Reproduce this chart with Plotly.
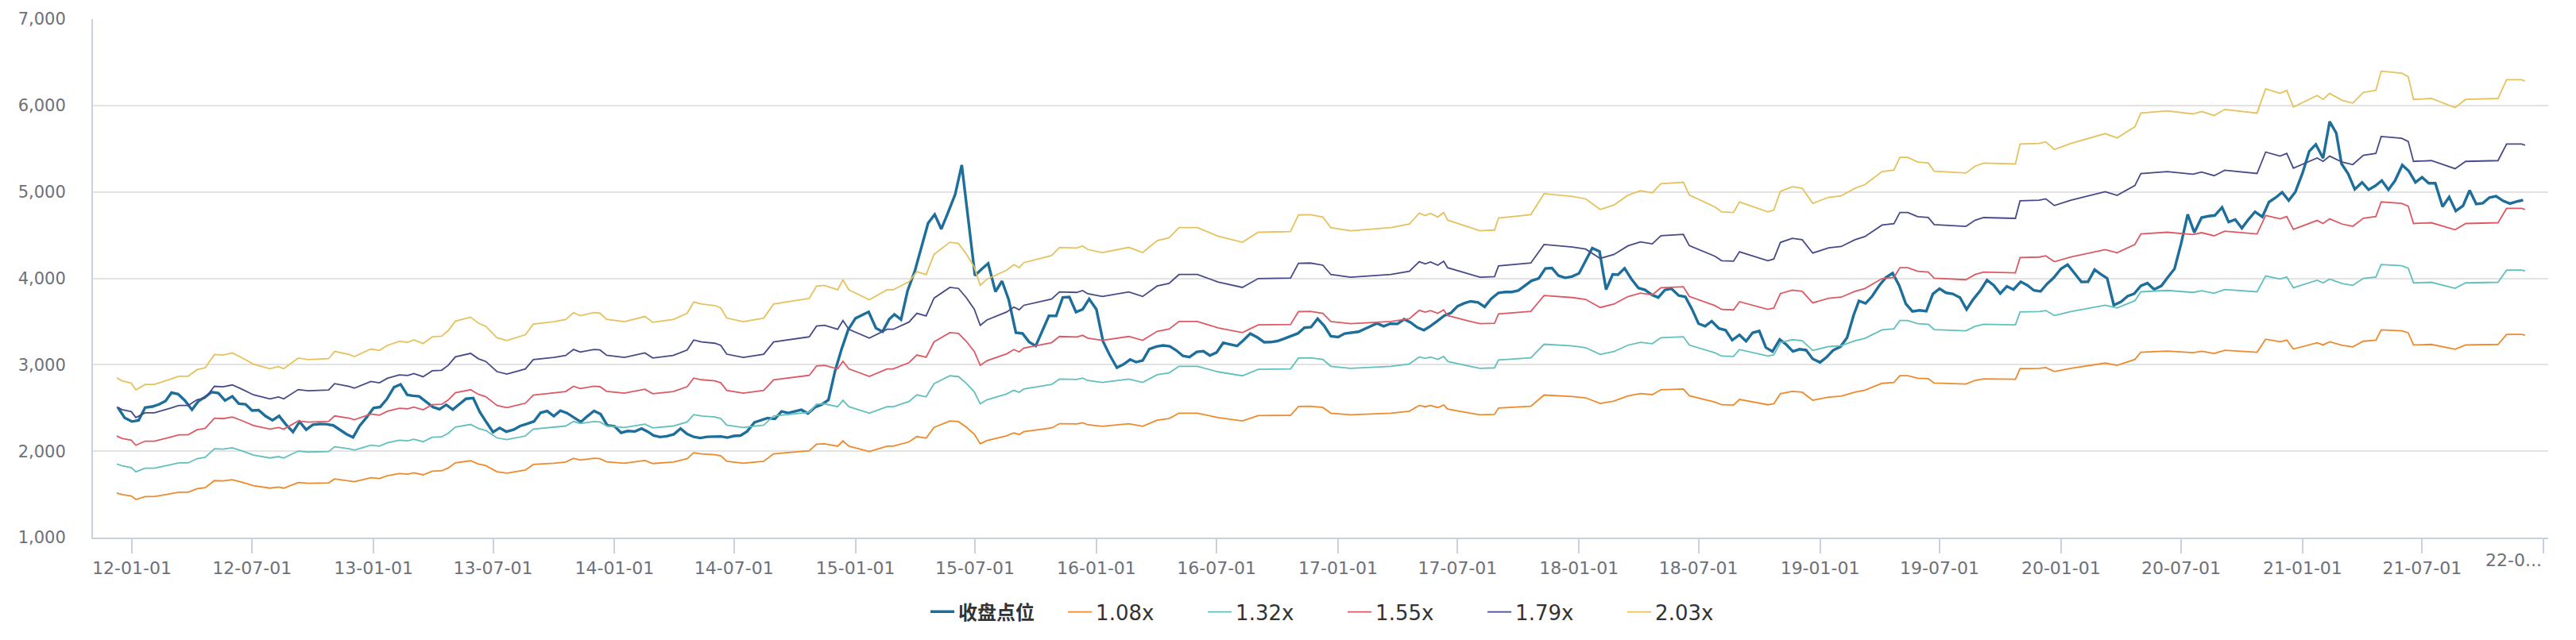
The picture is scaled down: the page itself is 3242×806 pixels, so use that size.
import plotly.graph_objects as go

# ---------------- data ----------------
# close level, sampled on the 1st, 11th and 21st of each month (2011-12-11 .. 2021-12-01)
close_months = [(2011, 12)] + [(y, m) for y in range(2012, 2022) for m in range(1, 13)]
close_dates = [f"{y}-{m:02d}-{d:02d}" for (y, m) in close_months for d in (1, 11, 21)][1:-2]

close_2011 = [2505, 2386]
close_2012 = [2343, 2355, 2505, 2516, 2541, 2580, 2677, 2661, 2588, 2480, 2581, 2627,
              2684, 2672, 2586, 2635, 2549, 2543, 2470, 2474, 2408, 2358, 2407, 2311,
              2223, 2340, 2248, 2306, 2314, 2313, 2298, 2252, 2197, 2160, 2294, 2386]
close_2013 = [2499, 2511, 2601, 2740, 2773, 2653, 2641, 2635, 2578, 2510, 2485, 2537,
              2481, 2540, 2606, 2614, 2453, 2334, 2221, 2269, 2226, 2248, 2291, 2316,
              2344, 2444, 2464, 2406, 2469, 2441, 2390, 2337, 2405, 2466, 2428, 2299]
close_2014 = [2288, 2213, 2233, 2228, 2262, 2223, 2181, 2164, 2173, 2196, 2262, 2198,
              2165, 2152, 2166, 2172, 2170, 2157, 2176, 2181, 2230, 2333, 2362, 2383,
              2373, 2460, 2442, 2457, 2478, 2437, 2510, 2539, 2593, 2926, 3181, 3406]
close_2015 = [3537, 3575, 3612, 3424, 3383, 3526, 3582, 3523, 3858, 4087, 4349, 4638,
              4739, 4570, 4757, 4971, 5311, 4680, 4032, 4106, 4172, 3846, 3968, 3755,
              3372, 3362, 3264, 3218, 3389, 3566, 3565, 3779, 3784, 3609, 3640, 3760]
close_2016 = [3639, 3270, 3113, 2966, 3005, 3060, 3030, 3049, 3180, 3211, 3223, 3213,
              3166, 3102, 3089, 3149, 3157, 3107, 3142, 3254, 3237, 3217, 3285, 3360,
              3315, 3261, 3262, 3274, 3300, 3333, 3362, 3428, 3435, 3533, 3450, 3330]
close_2017 = [3320, 3361, 3368, 3382, 3416, 3449, 3480, 3445, 3474, 3473, 3526, 3488,
              3432, 3400, 3447, 3510, 3569, 3600, 3677, 3711, 3734, 3722, 3670, 3763,
              3832, 3842, 3842, 3858, 3914, 3972, 4000, 4114, 4119, 4030, 4006, 4020]
close_2018 = [4058, 4209, 4350, 4310, 3870, 4046, 4042, 4116, 3996, 3888, 3866, 3810,
              3778, 3865, 3880, 3800, 3786, 3645, 3476, 3445, 3504, 3420, 3400, 3285,
              3346, 3272, 3370, 3390, 3199, 3153, 3292, 3233, 3154, 3179, 3169, 3068]
close_2019 = [3027, 3088, 3168, 3209, 3313, 3575, 3738, 3710, 3793, 3920, 4010, 4060,
              3915, 3706, 3618, 3630, 3620, 3820, 3880, 3832, 3820, 3778, 3640, 3756,
              3860, 3980, 3920, 3825, 3908, 3870, 3960, 3920, 3860, 3848, 3936, 4006]
close_2020 = [4110, 4158, 4060, 3958, 3960, 4100, 4050, 4000, 3690, 3728, 3793, 3822,
              3914, 3944, 3872, 3912, 4014, 4110, 4403, 4740, 4530, 4702, 4719, 4728,
              4821, 4651, 4680, 4580, 4682, 4770, 4710, 4882, 4933, 4995, 4900, 5000]
close_2021 = [5220, 5470, 5550, 5390, 5814, 5680, 5325, 5210, 5030, 5110, 5025, 5070,
              5130, 5025, 5130, 5310, 5240, 5110, 5170, 5100, 5100, 4830, 4940, 4780,
              4840, 5018, 4860, 4870, 4935, 4950, 4895, 4865, 4888, 4905]
close_values = (close_2011 + close_2012 + close_2013 + close_2014 + close_2015 + close_2016
                + close_2017 + close_2018 + close_2019 + close_2020 + close_2021)
assert len(close_values) == len(close_dates), (len(close_values), len(close_dates))

band_dates = [
    "2011-12-09", "2011-12-17", "2011-12-31", "2012-01-07", "2012-01-21", "2012-02-04", "2012-02-28",
    "2012-03-12", "2012-03-26", "2012-04-09", "2012-04-21", "2012-05-05", "2012-05-18", "2012-06-01",
    "2012-06-15", "2012-07-03", "2012-07-28", "2012-08-10", "2012-08-18", "2012-09-09", "2012-09-24",
    "2012-10-25", "2012-11-03", "2012-11-25", "2012-12-03", "2012-12-28", "2013-01-10", "2013-01-22",
    "2013-02-09", "2013-02-22", "2013-03-03", "2013-03-17", "2013-03-31", "2013-04-14", "2013-04-24",
    "2013-05-05", "2013-05-28", "2013-06-09", "2013-06-20", "2013-07-07", "2013-07-22", "2013-08-19",
    "2013-08-31", "2013-10-01", "2013-10-19", "2013-10-31", "2013-11-10", "2013-12-01", "2013-12-10",
    "2013-12-20", "2014-01-16", "2014-02-16", "2014-02-28", "2014-03-31", "2014-04-21", "2014-05-01",
    "2014-05-13", "2014-06-02", "2014-06-11", "2014-06-20", "2014-07-15", "2014-08-15", "2014-08-30",
    "2014-10-23", "2014-11-03", "2014-11-15", "2014-12-05", "2014-12-13", "2014-12-22", "2015-01-22",
    "2015-02-18", "2015-02-27", "2015-03-23", "2015-04-04", "2015-04-18", "2015-04-30", "2015-05-24",
    "2015-06-06", "2015-06-18", "2015-06-30", "2015-07-09", "2015-07-19", "2015-08-18", "2015-08-29",
    "2015-09-06", "2015-09-13", "2015-10-25", "2015-11-06", "2015-12-02", "2015-12-11", "2015-12-19",
    "2016-01-10", "2016-02-19", "2016-03-11", "2016-04-02", "2016-04-20", "2016-05-05", "2016-06-02",
    "2016-07-03", "2016-08-09", "2016-09-02", "2016-10-21", "2016-11-02", "2016-11-20", "2016-12-09",
    "2016-12-21", "2017-01-20", "2017-03-22", "2017-04-19", "2017-05-04", "2017-05-13", "2017-05-21",
    "2017-06-01", "2017-06-10", "2017-06-16", "2017-07-17", "2017-08-04", "2017-08-26", "2017-09-01",
    "2017-10-20", "2017-11-09", "2017-12-22", "2018-01-11", "2018-02-02", "2018-02-23", "2018-03-16",
    "2018-04-04", "2018-04-22", "2018-05-05", "2018-06-08", "2018-06-17", "2018-07-26", "2018-08-05",
    "2018-08-23", "2018-09-01", "2018-10-14", "2018-10-23", "2018-11-02", "2018-11-20", "2018-12-05",
    "2018-12-21", "2019-01-14", "2019-02-02", "2019-02-23", "2019-03-10", "2019-04-05", "2019-04-23",
    "2019-05-02", "2019-05-14", "2019-05-29", "2019-06-14", "2019-06-23", "2019-07-29", "2019-08-10",
    "2019-08-24", "2019-09-06", "2019-10-24", "2019-10-31", "2019-11-29", "2019-12-09", "2019-12-22",
    "2020-01-16", "2020-03-08", "2020-03-26", "2020-04-22", "2020-05-01", "2020-06-10", "2020-07-19",
    "2020-08-01", "2020-08-20", "2020-09-05", "2020-10-24", "2020-11-06", "2020-11-28", "2020-12-08",
    "2020-12-18", "2021-01-23", "2021-02-01", "2021-02-11", "2021-03-02", "2021-03-18", "2021-04-03",
    "2021-04-22", "2021-04-30", "2021-05-31", "2021-06-10", "2021-06-18", "2021-07-15", "2021-08-20",
    "2021-09-05", "2021-10-24", "2021-11-06", "2021-11-29", "2021-12-04",
]

band_108 = [
    1516, 1497, 1482, 1441, 1475, 1475, 1507, 1525, 1525, 1566, 1577, 1659, 1656, 1669, 1641, 1600,
    1572, 1585, 1572, 1637, 1628, 1633, 1678, 1659, 1647, 1693, 1684, 1715, 1740, 1734, 1749, 1726,
    1768, 1772, 1805, 1865, 1889, 1851, 1833, 1762, 1745, 1781, 1846, 1861, 1874, 1917, 1898, 1917,
    1913, 1876, 1861, 1893, 1857, 1874, 1913, 1982, 1969, 1960, 1945, 1883, 1861, 1883, 1969, 2005,
    2080, 2085, 2057, 2118, 2057, 1996, 2057, 2057, 2107, 2169, 2150, 2275, 2350, 2342, 2277, 2197,
    2085, 2122, 2178, 2212, 2193, 2225, 2268, 2318, 2315, 2328, 2305, 2287, 2318, 2287, 2359, 2378,
    2440, 2440, 2388, 2350, 2412, 2415, 2518, 2520, 2505, 2440, 2421, 2440, 2462, 2529, 2514, 2528,
    2505, 2533, 2487, 2443, 2421, 2425, 2499, 2520, 2649, 2632, 2617, 2552, 2580, 2639, 2667, 2654,
    2711, 2720, 2641, 2567, 2537, 2533, 2598, 2537, 2548, 2664, 2692, 2682, 2589, 2626, 2636, 2682,
    2705, 2785, 2795, 2873, 2873, 2844, 2838, 2788, 2781, 2776, 2819, 2837, 2832, 2955, 2958, 2968,
    2921, 2958, 3019, 2993, 3061, 3145, 3158, 3140, 3155, 3130, 3168, 3145, 3295, 3266, 3285, 3182,
    3254, 3229, 3266, 3224, 3207, 3272, 3285, 3403, 3392, 3369, 3229, 3235, 3179, 3229, 3235, 3351,
    3351, 3341,
]
band_132 = [
    1852, 1830, 1811, 1761, 1802, 1802, 1841, 1864, 1864, 1914, 1928, 2028, 2023, 2040, 2005, 1955,
    1921, 1937, 1921, 2001, 1990, 1996, 2051, 2028, 2012, 2069, 2058, 2096, 2126, 2120, 2138, 2110,
    2161, 2165, 2206, 2279, 2309, 2263, 2240, 2153, 2133, 2176, 2256, 2274, 2291, 2343, 2320, 2343,
    2338, 2293, 2274, 2313, 2270, 2291, 2338, 2423, 2407, 2396, 2377, 2302, 2274, 2302, 2407, 2450,
    2542, 2548, 2514, 2589, 2514, 2439, 2514, 2514, 2575, 2651, 2628, 2781, 2872, 2863, 2784, 2685,
    2548, 2594, 2662, 2704, 2681, 2719, 2772, 2834, 2829, 2845, 2817, 2795, 2834, 2795, 2884, 2906,
    2982, 2982, 2918, 2872, 2947, 2952, 3077, 3080, 3062, 2982, 2959, 2982, 3009, 3091, 3073, 3089,
    3062, 3096, 3039, 2986, 2959, 2964, 3055, 3080, 3237, 3217, 3198, 3119, 3153, 3226, 3260, 3244,
    3313, 3324, 3228, 3137, 3100, 3096, 3176, 3100, 3114, 3256, 3290, 3278, 3165, 3210, 3221, 3278,
    3306, 3404, 3416, 3511, 3511, 3475, 3469, 3407, 3399, 3393, 3445, 3468, 3461, 3611, 3616, 3627,
    3570, 3616, 3689, 3657, 3741, 3844, 3860, 3837, 3856, 3826, 3871, 3844, 4027, 3992, 4015, 3890,
    3977, 3947, 3992, 3940, 3919, 3999, 4015, 4159, 4145, 4118, 3947, 3954, 3885, 3947, 3954, 4095,
    4095, 4084,
]
band_155 = [
    2175, 2148, 2127, 2068, 2116, 2116, 2162, 2189, 2189, 2248, 2264, 2381, 2376, 2395, 2355, 2296,
    2255, 2274, 2255, 2349, 2336, 2344, 2408, 2381, 2363, 2429, 2416, 2462, 2497, 2489, 2510, 2478,
    2537, 2542, 2591, 2676, 2711, 2657, 2630, 2529, 2504, 2555, 2649, 2671, 2690, 2751, 2724, 2751,
    2746, 2692, 2671, 2716, 2665, 2690, 2746, 2845, 2826, 2813, 2791, 2703, 2671, 2703, 2826, 2877,
    2985, 2992, 2952, 3040, 2952, 2864, 2952, 2952, 3024, 3113, 3086, 3265, 3372, 3362, 3269, 3153,
    2992, 3046, 3126, 3175, 3148, 3193, 3255, 3327, 3322, 3340, 3308, 3282, 3327, 3282, 3386, 3413,
    3501, 3501, 3427, 3372, 3461, 3466, 3614, 3617, 3595, 3501, 3475, 3501, 3533, 3630, 3608, 3627,
    3595, 3635, 3569, 3507, 3475, 3480, 3587, 3617, 3801, 3777, 3756, 3663, 3702, 3788, 3828, 3809,
    3890, 3903, 3791, 3684, 3640, 3635, 3729, 3640, 3656, 3823, 3863, 3850, 3716, 3769, 3782, 3850,
    3882, 3997, 4011, 4123, 4123, 4081, 4073, 4001, 3992, 3984, 4045, 4072, 4064, 4240, 4246, 4260,
    4192, 4246, 4332, 4295, 4393, 4514, 4533, 4506, 4528, 4492, 4546, 4514, 4728, 4688, 4715, 4567,
    4670, 4634, 4688, 4627, 4602, 4696, 4715, 4884, 4867, 4835, 4634, 4643, 4562, 4634, 4643, 4809,
    4809, 4795,
]
band_179 = [
    2512, 2481, 2457, 2389, 2444, 2444, 2497, 2528, 2528, 2596, 2615, 2750, 2744, 2766, 2719, 2652,
    2605, 2627, 2605, 2713, 2698, 2707, 2781, 2750, 2729, 2806, 2791, 2843, 2883, 2875, 2899, 2861,
    2930, 2936, 2992, 3091, 3131, 3069, 3038, 2920, 2892, 2951, 3060, 3085, 3107, 3177, 3146, 3177,
    3171, 3109, 3085, 3137, 3078, 3107, 3171, 3286, 3264, 3249, 3224, 3122, 3085, 3122, 3264, 3323,
    3447, 3456, 3410, 3511, 3410, 3308, 3410, 3410, 3493, 3595, 3564, 3771, 3895, 3883, 3775, 3642,
    3456, 3518, 3610, 3667, 3636, 3688, 3759, 3843, 3837, 3858, 3821, 3790, 3843, 3790, 3911, 3942,
    4044, 4044, 3958, 3895, 3997, 4003, 4174, 4177, 4152, 4044, 4013, 4044, 4081, 4192, 4167, 4189,
    4152, 4198, 4122, 4050, 4013, 4019, 4143, 4177, 4391, 4362, 4338, 4230, 4276, 4375, 4421, 4399,
    4493, 4508, 4378, 4255, 4204, 4198, 4307, 4204, 4223, 4415, 4462, 4446, 4292, 4353, 4368, 4446,
    4483, 4616, 4632, 4762, 4762, 4713, 4704, 4621, 4610, 4601, 4672, 4703, 4694, 4898, 4904, 4920,
    4842, 4904, 5003, 4960, 5074, 5213, 5235, 5204, 5229, 5188, 5250, 5213, 5461, 5414, 5445, 5275,
    5393, 5353, 5414, 5344, 5316, 5424, 5445, 5641, 5621, 5584, 5353, 5362, 5269, 5353, 5362, 5554,
    5554, 5539,
]
band_203 = [
    2849, 2814, 2786, 2709, 2772, 2772, 2832, 2867, 2867, 2944, 2965, 3119, 3112, 3137, 3084, 3007,
    2954, 2979, 2954, 3077, 3060, 3070, 3154, 3119, 3095, 3182, 3165, 3224, 3270, 3260, 3288, 3245,
    3323, 3330, 3393, 3505, 3551, 3480, 3445, 3312, 3280, 3347, 3470, 3498, 3523, 3603, 3568, 3603,
    3596, 3526, 3498, 3558, 3491, 3523, 3596, 3726, 3702, 3685, 3656, 3540, 3498, 3540, 3702, 3768,
    3909, 3919, 3867, 3982, 3867, 3751, 3867, 3867, 3961, 4077, 4042, 4277, 4417, 4403, 4281, 4130,
    3919, 3989, 4094, 4158, 4123, 4182, 4263, 4358, 4351, 4375, 4333, 4298, 4358, 4298, 4435, 4470,
    4586, 4586, 4488, 4417, 4533, 4540, 4733, 4737, 4709, 4586, 4551, 4586, 4628, 4754, 4726, 4751,
    4709, 4761, 4674, 4593, 4551, 4558, 4698, 4737, 4979, 4947, 4919, 4797, 4849, 4961, 5014, 4989,
    5095, 5112, 4965, 4825, 4768, 4761, 4884, 4768, 4789, 5007, 5060, 5042, 4867, 4937, 4954, 5042,
    5084, 5235, 5253, 5400, 5400, 5345, 5335, 5240, 5228, 5218, 5298, 5333, 5323, 5554, 5561, 5579,
    5491, 5561, 5674, 5625, 5754, 5912, 5937, 5902, 5930, 5884, 5954, 5912, 6193, 6140, 6175, 5982,
    6116, 6070, 6140, 6060, 6028, 6151, 6175, 6397, 6375, 6333, 6070, 6081, 5975, 6070, 6081, 6298,
    6298, 6281,
]
for b in (band_108, band_132, band_155, band_179, band_203):
    assert len(b) == len(band_dates), (len(b), len(band_dates))

series_names = ["<b>收盘点位</b>", "1.08x", "1.32x", "1.55x", "1.79x", "2.03x"]
series_colors = ["#1d6e9a", "#ef8a2c", "#62c0bc", "#dc5a64", "#454b87", "#e5c25e"]

tick_dates = ["2012-01-01", "2012-07-01", "2013-01-01", "2013-07-01", "2014-01-01", "2014-07-01",
              "2015-01-01", "2015-07-01", "2016-01-01", "2016-07-01", "2017-01-01", "2017-07-01",
              "2018-01-01", "2018-07-01", "2019-01-01", "2019-07-01", "2020-01-01", "2020-07-01",
              "2021-01-01", "2021-07-01", "2022-01-01"]
tick_labels = ["12-01-01", "12-07-01", "13-01-01", "13-07-01", "14-01-01", "14-07-01",
               "15-01-01", "15-07-01", "16-01-01", "16-07-01", "17-01-01", "17-07-01",
               "18-01-01", "18-07-01", "19-01-01", "19-07-01", "20-01-01", "20-07-01",
               "21-01-01", "21-07-01", ""]
last_label = "22-0..."
y_ticks = [1000, 2000, 3000, 4000, 5000, 6000, 7000]

# ---------------- figure ----------------
AXIS = "#c8d1e2"
LABEL = "#6e7079"
FONT = "DejaVu Sans, Noto Sans CJK SC, sans-serif"

fig = go.Figure()
fig.add_trace(go.Scatter(x=close_dates, y=close_values, mode="lines", name=series_names[0],
                         line=dict(color=series_colors[0], width=3.4), legend="legend"))
for name, color, vals in zip(series_names[1:], series_colors[1:],
                             [band_108, band_132, band_155, band_179, band_203]):
    fig.add_trace(go.Scatter(x=band_dates, y=vals, mode="lines", name=name,
                             line=dict(color=color, width=1.8), legend="legend2"))

legend_common = dict(orientation="h", y=-0.1435, yanchor="middle", xanchor="left",
                     itemwidth=30, bgcolor="rgba(0,0,0,0)", borderwidth=0)

fig.update_layout(
    width=3242, height=806, autosize=False,
    margin=dict(l=117, r=35, t=22, b=129),
    paper_bgcolor="white", plot_bgcolor="white",
    font=dict(family=FONT, color=LABEL),
    showlegend=True,
    legend=dict(x=0.3395, font=dict(family=FONT, size=24, color="#333333"), **legend_common),
    legend2=dict(x=0.3955, entrywidth=131, entrywidthmode="pixels",
                 font=dict(family=FONT, size=26, color="#333333"), **legend_common),
    annotations=[dict(x=tick_dates[-1], xref="x", y=-0.0443, yref="paper", text=last_label,
                      showarrow=False, xanchor="right", yanchor="middle",
                      font=dict(family=FONT, size=22, color=LABEL))],
)
fig.update_xaxes(type="date", range=["2011-11-03", "2022-01-08"],
                 tickmode="array", tickvals=tick_dates, ticktext=tick_labels,
                 ticks="outside", ticklen=18, tickwidth=2, tickcolor=AXIS,
                 showline=True, linecolor=AXIS, linewidth=2, showgrid=False, zeroline=False,
                 tickfont=dict(family=FONT, size=22, color=LABEL))
fig.update_yaxes(range=[1000, 7000], tickmode="array", tickvals=y_ticks, tickformat=",",
                 ticks="", showline=True, linecolor=AXIS, linewidth=2,
                 showgrid=True, gridcolor="#e3e3e3", gridwidth=1.5, zeroline=False,
                 ticklabelstandoff=28,
                 tickfont=dict(family=FONT, size=21, color=LABEL))

fig.write_html("out.html")
